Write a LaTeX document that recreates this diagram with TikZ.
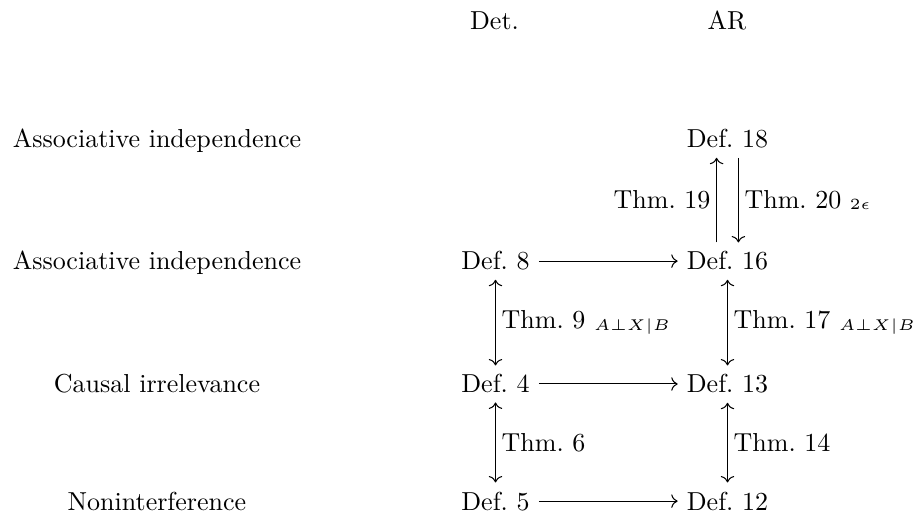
\documentclass[tikz,border=0pt]{standalone}
\usepackage{graphicx}
\usetikzlibrary{arrows.meta}

\tikzset{
  defnode/.style={anchor=base},
  imp/.style={-{Computer Modern Rightarrow}},
  equiv/.style={{Computer Modern Rightarrow}-{Computer Modern Rightarrow}},
  thm/.style={midway,inner sep=0.5ex},
}
\newcommand{\cond}[1]{\raisebox{-0.6pt}{\scalebox{1.2}{$\scriptscriptstyle #1$}}}

\begin{document}
\begin{tikzpicture}[x=0.3846pt,y=-0.3846pt]
\useasboundingbox (0,0) rectangle (920,519);
% HEADERS
\draw node[defnode] (det) at (494.5,30) {Det.};
\draw node[defnode] (ar) at (727,30) {AR};
% ROW NAMES
\draw node[defnode] (assocB) at (157,148) {Associative independence};
\draw node[defnode] (assocA) at (157,270) {Associative independence};
\draw node[defnode] (causal) at (157,393) {Causal irrelevance};
\draw node[defnode] (nonint) at (157,510) {Noninterference};
% NODES
\draw node[defnode] (d18) at (727.5,148) {Def.\ 18};

\draw node[defnode] (d8) at (495.5,270) {Def.\ 8};
\draw node[defnode] (d16) at (727.5,270) {Def.\ 16};

\draw node[defnode] (d4) at (495.5,393) {Def.\ 4};
\draw node[defnode] (d13) at (727.5,393) {Def.\ 13};

\draw node[defnode] (d5) at (495.5,510) {Def.\ 5};
\draw node[defnode] (d12) at (727.5,510) {Def.\ 12};
% CONNECTIONS
\draw[imp] (d8.east) -- (d8.east -| d16.west);
\draw[imp] (d4.east) -- (d4.east -| d13.west);
\draw[imp] (d5.east) -- (d5.east -| d12.west);

\draw[equiv] (d8) -- node[thm,right] {Thm.~9 \cond{A\perp X|B}} (d4);
\draw[equiv] (d4) -- node[thm,right] {Thm.~6} (d5);
\draw[equiv] (d16) -- node[thm,right] {Thm.~17 \cond{A\perp X|B}} (d13);
\draw[equiv] (d13) -- node[thm,right] {Thm.~14} (d12);

\draw[imp] ([xshift=-4.2pt]d16.north) -- node[thm,left] {Thm.~19} ([xshift=-4.2pt]d18.south);
\draw[imp] ([xshift=4.2pt]d18.south) -- node[thm,right] {Thm.~20 \cond{2\epsilon}} ([xshift=4.2pt]d16.north);
\end{tikzpicture}
\end{document}
